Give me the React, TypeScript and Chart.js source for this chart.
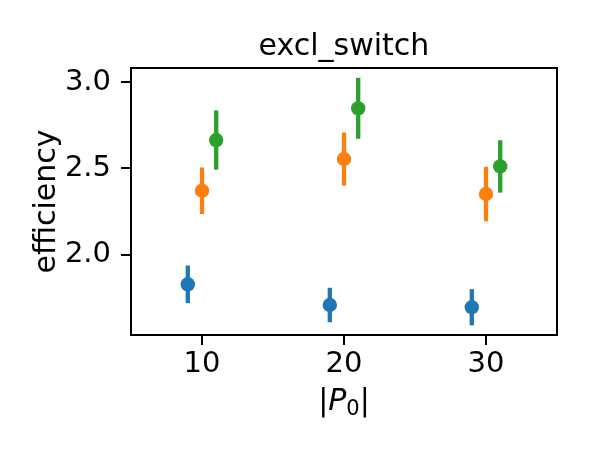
import React, { useEffect, useRef } from 'react';
import { Chart, registerables } from 'chart.js';

Chart.register(...registerables);

const chartTitle = 'excl_switch';
const yLabel = 'efficiency';
const seriesColors = ['#1f77b4', '#ff7f0e', '#2ca02c'];
const blueX = [9, 19, 29];
const blueY = [1.828, 1.708, 1.695];
const blueErr = [0.109, 0.1, 0.105];
const orangeX = [10, 20, 30];
const orangeY = [2.371, 2.555, 2.352];
const orangeErr = [0.135, 0.154, 0.158];
const greenX = [11, 21, 31];
const greenY = [2.665, 2.849, 2.512];
const greenErr = [0.172, 0.177, 0.152];
const xTicks = [10, 20, 30];
const yTicks = [2.0, 2.5, 3.0];

const FONT = '"DejaVu Sans", sans-serif';

const errorBarPlugin = {
  id: 'errorBars',
  beforeDatasetsDraw(chart: any) {
    const ctx = chart.ctx;
    const xs = chart.scales.x;
    const ys = chart.scales.y;
    const { left, right, top, bottom } = chart.chartArea;
    ctx.save();
    ctx.beginPath();
    ctx.rect(left, top, right - left, bottom - top);
    ctx.clip();
    chart.data.datasets.forEach((ds: any) => {
      ctx.strokeStyle = ds.backgroundColor;
      ctx.lineWidth = 4.3;
      ctx.lineCap = 'butt';
      ds.data.forEach((p: any, j: number) => {
        const e = ds.errors[j];
        const px = xs.getPixelForValue(p.x);
        ctx.beginPath();
        ctx.moveTo(px, ys.getPixelForValue(p.y - e));
        ctx.lineTo(px, ys.getPixelForValue(p.y + e));
        ctx.stroke();
      });
    });
    ctx.restore();
  },
};

const decorPlugin = {
  id: 'decor',
  afterDraw(chart: any) {
    const ctx = chart.ctx;
    const { left, right, top, bottom } = chart.chartArea;
    ctx.save();
    ctx.strokeStyle = '#000';
    ctx.lineWidth = 2;
    ctx.strokeRect(left, top, right - left, bottom - top);

    ctx.fillStyle = '#000';
    ctx.font = `30px ${FONT}`;
    ctx.textAlign = 'center';
    ctx.textBaseline = 'alphabetic';
    ctx.fillText(chartTitle, (left + right) / 2, 55);

    ctx.save();
    ctx.translate(55, (top + bottom) / 2);
    ctx.rotate(-Math.PI / 2);
    ctx.fillText(yLabel, 0, 0);
    ctx.restore();

    // x label: |P_0|
    const normal = `30px ${FONT}`;
    const italic = `oblique 30px ${FONT}`;
    const sub = `21px ${FONT}`;
    const parts = [
      { t: '|', f: normal, dy: 0 },
      { t: 'P', f: italic, dy: 0 },
      { t: '0', f: sub, dy: 4.5 },
      { t: '|', f: normal, dy: 0 },
    ];
    ctx.textAlign = 'left';
    let total = 0;
    const widths = parts.map((p) => {
      ctx.font = p.f;
      const w = ctx.measureText(p.t).width;
      total += w;
      return w;
    });
    let x = (left + right) / 2 - total / 2;
    parts.forEach((p, i) => {
      ctx.font = p.f;
      ctx.fillText(p.t, x, 410 + p.dy);
      x += widths[i];
    });
    ctx.restore();
  },
};

export default function App() {
  const ref = useRef<HTMLCanvasElement | null>(null);
  useEffect(() => {
    if (!ref.current) return;
    const mk = (xs: number[], ys: number[]) => xs.map((x, i) => ({ x, y: ys[i] }));
    const tickFont = { family: FONT, size: 29 };
    const chart = new Chart(ref.current, {
      type: 'scatter',
      data: {
        datasets: [
          { data: mk(blueX, blueY), errors: blueErr, backgroundColor: seriesColors[0], borderColor: seriesColors[0] } as any,
          { data: mk(orangeX, orangeY), errors: orangeErr, backgroundColor: seriesColors[1], borderColor: seriesColors[1] } as any,
          { data: mk(greenX, greenY), errors: greenErr, backgroundColor: seriesColors[2], borderColor: seriesColors[2] } as any,
        ],
      },
      options: {
        responsive: false,
        animation: false,
        devicePixelRatio: 1,
        layout: { padding: { top: 68, right: 43, left: 0, bottom: 0 } },
        elements: { point: { radius: 7.2, borderWidth: 0, hoverRadius: 7.2 } },
        plugins: { legend: { display: false }, tooltip: { enabled: false }, title: { display: false } },
        scales: {
          x: {
            type: 'linear',
            min: 5,
            max: 35,
            afterBuildTicks: (s: any) => { s.ticks = xTicks.map((v) => ({ value: v })); },
            afterFit: (s: any) => { s.height = 115; },
            ticks: { font: tickFont, color: '#000', padding: 2, maxRotation: 0, autoSkip: false, callback: (v: any) => String(v) },
            grid: { display: true, drawOnChartArea: false, drawTicks: true, tickLength: 10, color: '#000', lineWidth: 2 },
            border: { display: false },
          },
          y: {
            type: 'linear',
            min: 1.534,
            max: 3.083,
            afterBuildTicks: (s: any) => { s.ticks = yTicks.map((v) => ({ value: v })); },
            afterFit: (s: any) => { s.width = 131; },
            ticks: { font: tickFont, color: '#000', padding: 10, autoSkip: false, callback: (v: any) => Number(v).toFixed(1) },
            grid: { display: true, drawOnChartArea: false, drawTicks: true, tickLength: 10, color: '#000', lineWidth: 2 },
            border: { display: false },
          },
        },
      } as any,
      plugins: [errorBarPlugin, decorPlugin],
    });
    return () => chart.destroy();
  }, []);
  return (
    <div style={{ position: 'fixed', left: 0, top: 0, width: 600, height: 450, background: '#fff' }}>
      <canvas ref={ref} width={600} height={450} style={{ display: 'block' }} />
    </div>
  );
}
